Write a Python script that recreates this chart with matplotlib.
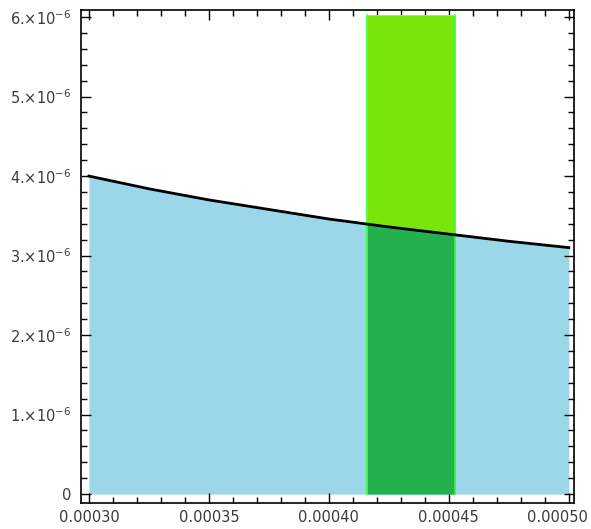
import numpy as np
import matplotlib.pyplot as plt
import matplotlib.transforms as mtransforms
from matplotlib.ticker import MultipleLocator, FixedLocator

# curve
curva_x = [0.000300, 0.000325, 0.000350, 0.000375, 0.000400,
           0.000425, 0.000450, 0.000475, 0.000500]
curva_y = [4.00e-6, 3.84e-6, 3.70e-6, 3.58e-6, 3.46e-6,
           3.36e-6, 3.27e-6, 3.18e-6, 3.10e-6]

# green band
banda_x = [0.000416, 0.0004525]
banda_top = 6.03e-6

# tick labels
xticks = [0.00030, 0.00035, 0.00040, 0.00045, 0.00050]
xlabels = ["0.00030", "0.00035", "0.00040", "0.00045", "0.00050"]
yticks = [0, 1e-6, 2e-6, 3e-6, 4e-6, 5e-6, 6e-6]
ylabels = ["0"] + [r"%d.$\times$10$^{-6}$" % i for i in range(1, 7)]

fig = plt.figure(figsize=(5.91, 5.29), dpi=100)
ax = fig.add_axes([0.137, 0.049, 0.834, 0.932])

# blue area under the curve
ax.fill_between(curva_x, 0, curva_y, color="#9bd7e8", lw=0, zorder=1)

# band: light green above the curve, dark green below
y0 = np.interp(banda_x[0], curva_x, curva_y)
y1 = np.interp(banda_x[1], curva_x, curva_y)
bx = [banda_x[0]] + [x for x in curva_x if banda_x[0] < x < banda_x[1]] + [banda_x[1]]
by = [y0] + [y for x, y in zip(curva_x, curva_y) if banda_x[0] < x < banda_x[1]] + [y1]
ax.fill_between(bx, by, banda_top, color="#78e60a", lw=0, zorder=2)
ax.fill_between(bx, 0, by, color="#24b14d", lw=0, zorder=2)
for xb in banda_x:
    ax.plot([xb, xb], [0, banda_top], color="#33ff33", lw=1.2, zorder=3)
ax.plot(bx, [banda_top] * len(bx), color="#9cf25a", lw=0.8, zorder=3)

# black curve
ax.plot(curva_x, curva_y, color="black", lw=2, zorder=4)

ax.set_xlim(0.0002967, 0.0005021)
ax.set_ylim(-0.113e-6, 6.088e-6)

ax.xaxis.set_major_locator(FixedLocator(xticks))
ax.set_xticklabels(xlabels)
ax.xaxis.set_minor_locator(MultipleLocator(0.00001))
ax.yaxis.set_major_locator(FixedLocator(yticks))
ax.set_yticklabels(ylabels)
ax.yaxis.set_minor_locator(MultipleLocator(0.2e-6))

ax.tick_params(which="both", direction="in", top=True, right=True,
               color="black", width=1, labelsize=10.5, labelcolor="#3a3a3a")
ax.tick_params(which="major", length=7)
ax.tick_params(axis="x", which="major", pad=5)
ax.tick_params(axis="y", which="major", pad=7)
ax.tick_params(which="minor", length=4)
for s in ax.spines.values():
    s.set_linewidth(1.2)

# last x label sits a bit left so it stays inside the picture
ultima = ax.get_xticklabels()[-1]
ultima.set_transform(ultima.get_transform() +
                     mtransforms.ScaledTranslation(-8 / 72, 0, fig.dpi_scale_trans))

fig.savefig("out.png", dpi=100)
